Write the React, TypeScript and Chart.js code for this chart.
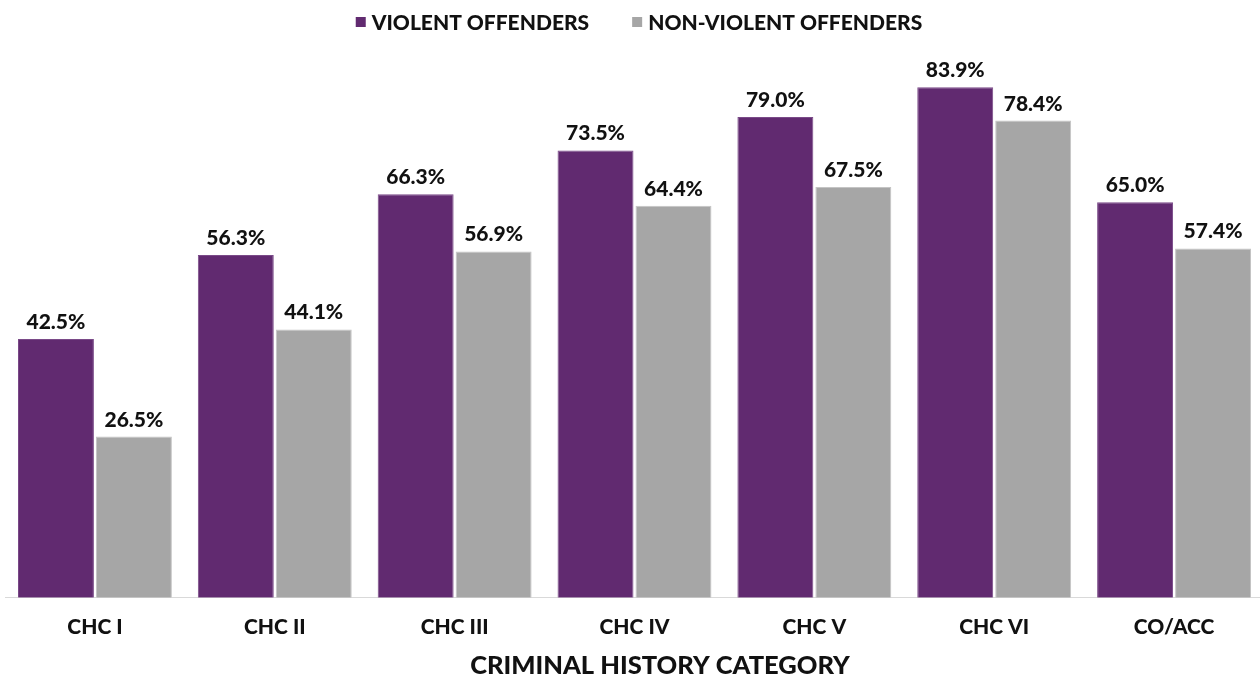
import React, { useEffect, useRef } from "react";
import { Chart, registerables } from "chart.js";

Chart.register(...registerables);

const categories = ["CHC I", "CHC II", "CHC III", "CHC IV", "CHC V", "CHC VI", "CO/ACC"];
const violent = [42.5, 56.3, 66.3, 73.5, 79.0, 83.9, 65.0];
const nonViolent = [26.5, 44.1, 56.9, 64.4, 67.5, 78.4, 57.4];
const seriesNames = ["VIOLENT OFFENDERS", "NON-VIOLENT OFFENDERS"];
const axisTitle = "CRIMINAL HISTORY CATEGORY";
const colors = ["#612a70", "#a6a6a6"];

const FONT = "Lato, 'DejaVu Sans', sans-serif";
const WEIGHT = "900";

const labelPlugin = {
  id: "valueLabels",
  afterDatasetsDraw(chart: any) {
    const ctx = chart.ctx;
    ctx.save();
    ctx.font = `${WEIGHT} 21px ${FONT}`;
    ctx.fillStyle = "#111";
    ctx.textAlign = "center";
    ctx.textBaseline = "alphabetic";
    chart.data.datasets.forEach((ds: any, di: number) => {
      const meta = chart.getDatasetMeta(di);
      meta.data.forEach((bar: any, i: number) => {
        ctx.fillText(ds.data[i].toFixed(1) + "%", bar.x, bar.y - 10);
      });
    });
    ctx.restore();
  },
};

const legendPlugin = {
  id: "customLegend",
  afterDraw(chart: any) {
    const ctx = chart.ctx;
    ctx.save();
    ctx.font = `${WEIGHT} 21px ${FONT}`;
    ctx.textBaseline = "middle";
    ctx.textAlign = "left";
    const box = 10;
    const boxGap = 6;
    const itemGap = 43;
    const widths = seriesNames.map((n) => box + boxGap + ctx.measureText(n).width);
    const total = widths.reduce((a, b) => a + b, 0) + itemGap * (seriesNames.length - 1);
    let x = 639 - total / 2;
    const y = 22;
    seriesNames.forEach((n, i) => {
      ctx.fillStyle = colors[i];
      ctx.fillRect(x, y - box / 2, box, box);
      ctx.fillStyle = "#111";
      ctx.fillText(n, x + box + boxGap, y + 1);
      x += widths[i] + itemGap;
    });
    // axis title
    ctx.font = `${WEIGHT} 25.5px ${FONT}`;
    ctx.textAlign = "center";
    ctx.fillText(axisTitle, 660, 666);
    ctx.restore();
  },
};

export default function App() {
  const ref = useRef<HTMLCanvasElement | null>(null);
  useEffect(() => {
    if (!ref.current) return;
    const chart = new Chart(ref.current, {
      type: "bar",
      data: {
        labels: categories,
        datasets: [
          {
            label: seriesNames[0],
            data: violent,
            backgroundColor: colors[0],
            borderColor: "#7a4a88",
            borderWidth: 1,
            categoryPercentage: 0.867,
            barPercentage: 0.974,
          },
          {
            label: seriesNames[1],
            data: nonViolent,
            backgroundColor: colors[1],
            borderColor: "#c4c4c4",
            borderWidth: 1,
            categoryPercentage: 0.867,
            barPercentage: 0.974,
          },
        ],
      },
      options: {
        responsive: false,
        animation: false,
        layout: { padding: { top: 50, left: 5, right: 0, bottom: 22 } },
        plugins: {
          legend: { display: false },
          tooltip: { enabled: false },
        },
        scales: {
          x: {
            grid: { display: false, drawTicks: false },
            border: { display: true, color: "#d9d9d9", width: 1 },
            ticks: {
              color: "#111",
              font: { family: FONT, size: 21, weight: WEIGHT },
              padding: 17,
            },
            title: { display: false },
          },
          y: {
            display: false,
            min: 0,
            max: 90,
          },
        },
      },
      plugins: [labelPlugin, legendPlugin],
    });
    return () => chart.destroy();
  }, []);
  return (
    <div style={{ position: "fixed", left: 0, top: 0, width: 1264, height: 679, background: "#fff" }}>
      <canvas ref={ref} width={1264} height={679} />
    </div>
  );
}
